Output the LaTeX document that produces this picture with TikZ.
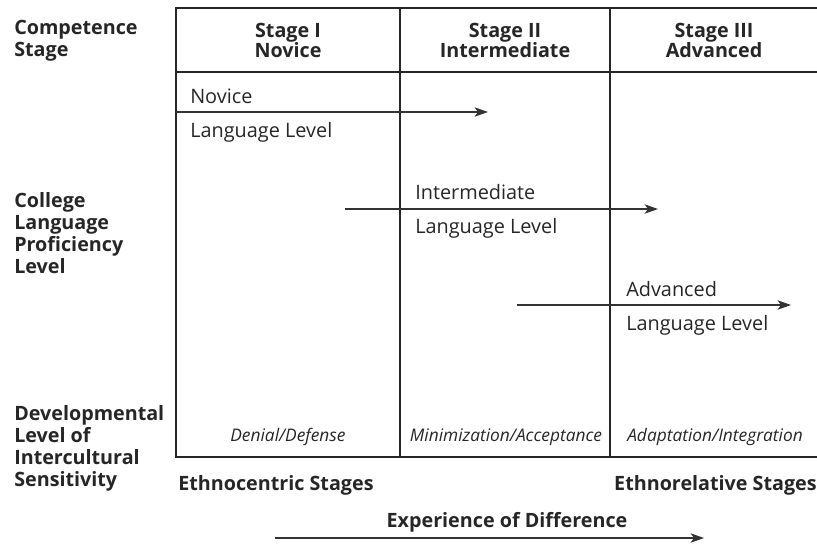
\documentclass[tikz,border=0pt]{standalone}
\usepackage{fontspec}
\setmainfont{Open Sans}
\usetikzlibrary{arrows.meta}
\begin{document}
\begin{tikzpicture}[x=0.75pt,y=-0.75pt,
  grid/.style={line width=1.5pt, draw=black!85},
  lvl/.style={-{Stealth[length=10pt,width=7pt,inset=2.5pt]}, line width=1.2pt, draw=black!80},
  lbl/.style={anchor=west, inner sep=0pt, font=\fontsize{14.9}{16}\selectfont, text=black!85},
  hd/.style={inner sep=0pt, align=center, font=\bfseries\fontsize{14.8}{15}\selectfont, text=black!85},
  side/.style={anchor=north west, inner sep=0pt, align=left, font=\bfseries\fontsize{14.8}{16.5}\selectfont, text=black!85},
  dls/.style={inner sep=0pt, font=\itshape\fontsize{13}{14}\selectfont, text=black!85}]
\useasboundingbox (0,0) rectangle (817,544);
% table frame
\coordinate (tl) at (176,8);
\coordinate (tr) at (817,8);
\coordinate (hl) at (176,72);
\coordinate (hr) at (817,72);
\coordinate (bl) at (176,457);
\coordinate (br) at (817,457);
\coordinate (c1t) at (400,8);
\coordinate (c1b) at (400,457);
\coordinate (c2t) at (610,8);
\coordinate (c2b) at (610,457);
\draw[grid] (tr) -- (tl) -- (bl) -- (br);
\draw[grid] (hl) -- (hr);
\draw[grid] (c1t) -- (c1b);
\draw[grid] (c2t) -- (c2b);
% headers
\node[hd] (h1) at (288,40) {Stage I\\Novice};
\node[hd] (h2) at (505,40) {Stage II\\Intermediate};
\node[hd] (h3) at (714,40) {Stage III\\Advanced};
% side labels
\node[side] (s1) at (14,20) {Competence\\Stage};
\node[side] (s2) at (14,192) {College\\Language\\Proficiency\\Level};
\node[side] (s3) at (14,405) {Developmental\\Level of\\Intercultural\\Sensitivity};
% language level arrows
\coordinate (a1s) at (176,112); \coordinate (a1e) at (488,112);
\coordinate (a2s) at (345,209); \coordinate (a2e) at (658,209);
\coordinate (a3s) at (517,305); \coordinate (a3e) at (791,305);
\draw[lvl] (a1s) -- (a1e);
\draw[lvl] (a2s) -- (a2e);
\draw[lvl] (a3s) -- (a3e);
\node[lbl] (n1) at (190,96) {Novice};
\node[lbl] (n2) at (190,132) {Language Level};
\node[lbl] (i1) at (415,192) {Intermediate};
\node[lbl] (i2) at (415,228) {Language Level};
\node[lbl] (v1) at (626,289) {Advanced};
\node[lbl] (v2) at (626,325) {Language Level};
% DMIS stages
\node[dls] (d1) at (288,437) {Denial/Defense};
\node[dls] (d2) at (506,437) {Minimization/Acceptance};
\node[dls] (d3) at (715,437) {Adaptation/Integration};
% bottom
\node[side, anchor=west] (eth1) at (178,485) {Ethnocentric Stages};
\node[side, anchor=east] (eth2) at (817,485) {Ethnorelative Stages};
\node[side, anchor=center] (exp) at (507,522) {Experience of Difference};
\coordinate (xs) at (275,538); \coordinate (xe) at (704,538);
\draw[lvl] (xs) -- (xe);
\end{tikzpicture}
\end{document}
